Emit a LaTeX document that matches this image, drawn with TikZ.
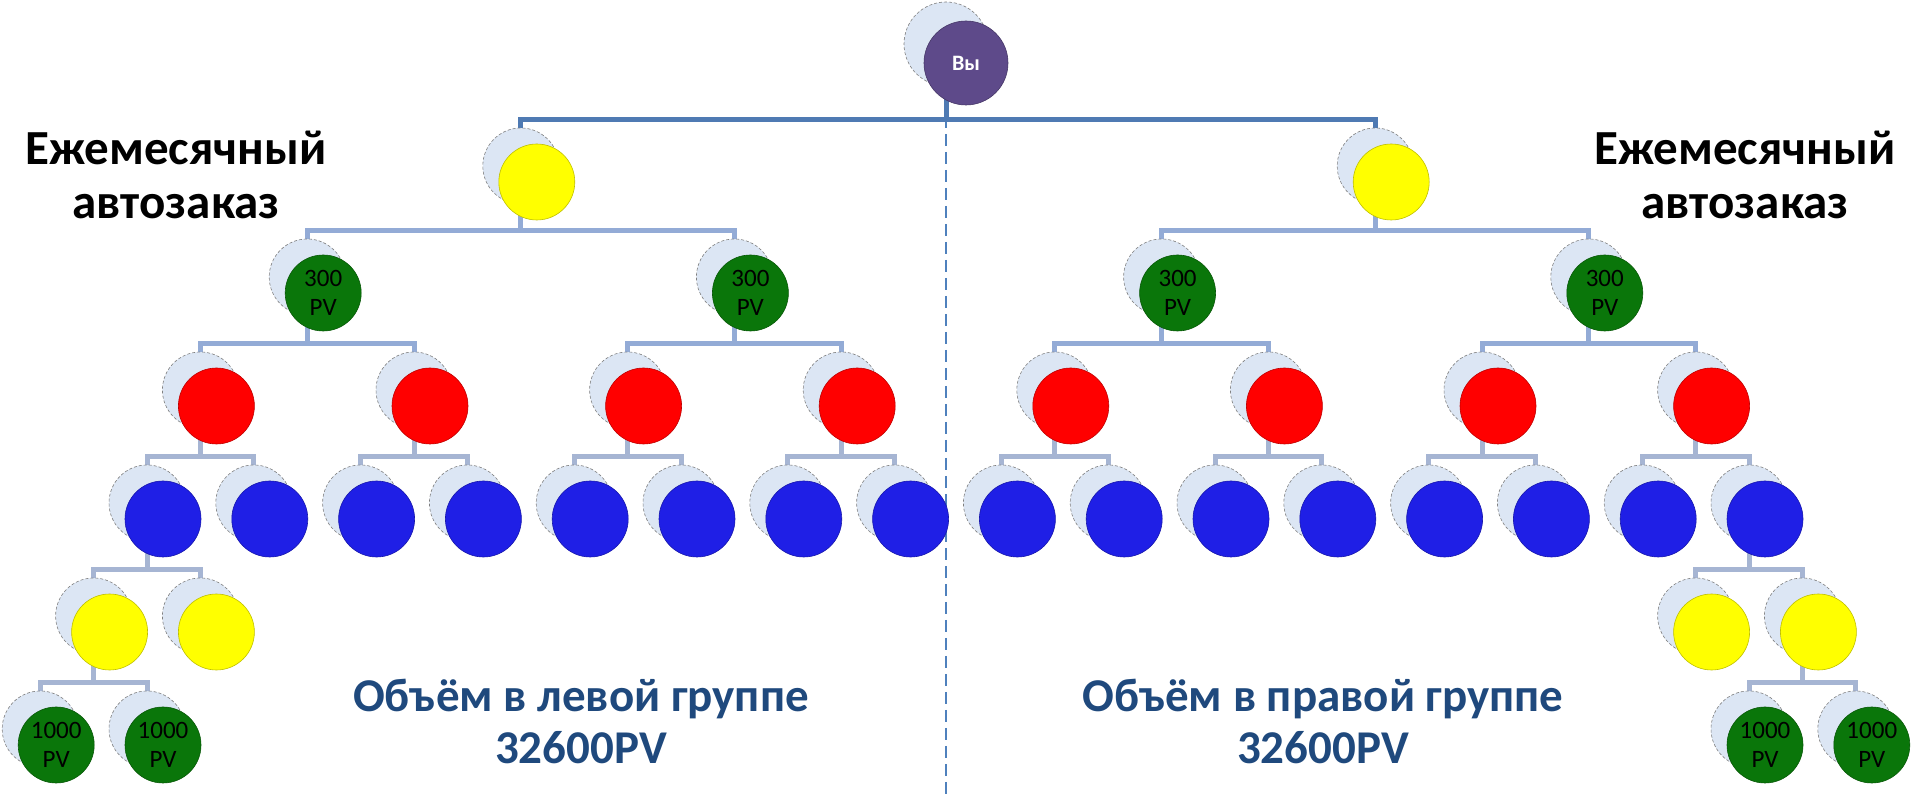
\documentclass[tikz,border=0pt]{standalone}
\usepackage{fontspec}
\setmainfont{Carlito}
\usetikzlibrary{backgrounds}

\definecolor{backfill}{HTML}{DCE6F4}
\definecolor{backline}{HTML}{7F7F7F}
\definecolor{youcol}{HTML}{5E4A8A}
\definecolor{sunny}{HTML}{FFFF00}
\definecolor{leafgreen}{HTML}{0A760A}
\definecolor{rosso}{HTML}{FF0000}
\definecolor{deepblue}{HTML}{1F1FE6}
\definecolor{topline}{HTML}{4F7AB3}
\definecolor{midline}{HTML}{93ABD6}
\definecolor{lowline}{HTML}{A6B5D3}
\definecolor{splitline}{HTML}{4F81BD}
\definecolor{sumcol}{HTML}{1F497D}

\tikzset{
  backdisc/.style={circle, minimum size=#1, inner sep=0pt, fill=backfill,
    draw=backline, densely dashed, line width=0.6pt},
  backdisc/.default=76pt,
  frontdisc/.style={circle, minimum size=76pt, inner sep=0pt, fill=#1,
    draw=#1!75!black, line width=0.6pt, align=center,
    font=\fontsize{25}{29}\selectfont},
  link/.style={draw=#1, line width=5pt},
  split/.style={draw=splitline, line width=2.5pt, dash pattern=on 12pt off 6pt},
  autotext/.style={align=center, font=\fontsize{49}{54}\selectfont\bfseries},
  sumtext/.style={align=center, text=sumcol, font=\fontsize{47}{52}\selectfont\bfseries},
}

% one member: back disc (name) and coloured disc (name f)
\newcommand{\member}[4]{%
  \node[backdisc] (#1) at (#2) {};
  \node[frontdisc=#3] (#1f) at ([shift={(16,-16)}]#1.center) {#4};}

\begin{document}
\begin{tikzpicture}[x=1pt, y=1pt]
  \useasboundingbox (0,0) rectangle (1915,795);
  \def\u{53.4}

  % top
  \node[backdisc=84pt] (you) at (946,751) {};
  \node[frontdisc=youcol, minimum size=84pt, text=white,
    font=\fontsize{22}{26}\selectfont\bfseries] (youf) at ([shift={(20,-19)}]you.center) {Вы};

  % first line
  \foreach \i in {1,2}
    \member{y\i}{{948+(16*\i-24)*\u},629}{sunny}{};
  \foreach \i in {1,...,4}
    \member{g\i}{{948+(8*\i-20)*\u},518}{leafgreen}{300\\PV};
  \foreach \i in {1,...,8}
    \member{r\i}{{948+(4*\i-18)*\u},405}{rosso}{};
  \foreach \i in {1,...,16}
    \member{b\i}{{948+(2*\i-17)*\u},292}{deepblue}{};

  % left and right deep legs
  \member{ly1}{{948-16*\u},179}{sunny}{};
  \member{ly2}{{948-14*\u},179}{sunny}{};
  \member{lg1}{{948-17*\u},66}{leafgreen}{1000\\PV};
  \member{lg2}{{948-15*\u},66}{leafgreen}{1000\\PV};
  \member{ry1}{{948+14*\u},179}{sunny}{};
  \member{ry2}{{948+16*\u},179}{sunny}{};
  \member{rg1}{{948+15*\u},66}{leafgreen}{1000\\PV};
  \member{rg2}{{948+17*\u},66}{leafgreen}{1000\\PV};

  % labels
  \node[autotext] (autoL) at (176,620) {Ежемесячный\\автозаказ};
  \node[autotext] (autoR) at (1745,620) {Ежемесячный\\автозаказ};
  \node[sumtext] (sumL) at (581,74) {Объём в левой группе\\32600PV};
  \node[sumtext] (sumR) at (1323,74) {Объём в правой группе\\32600PV};

  \begin{scope}[on background layer]
    \coordinate (floor) at (946,0);
    \draw[split] (you.center) -- (you.center |- floor);
    \foreach \c in {y1,y2}
      \draw[link=topline] (you.center) |- ([yshift=8pt]\c.north) -- (\c.center);
    \foreach \p/\c in {y1/g1, y1/g2, y2/g3, y2/g4}
      \draw[link=midline] (\p.center) |- ([yshift=8pt]\c.north) -- (\c.center);
    \foreach \i in {1,...,4} {
      \pgfmathtruncatemacro\ca{2*\i-1}
      \pgfmathtruncatemacro\cb{2*\i}
      \draw[link=midline] (g\i.center) |- ([yshift=8pt]r\ca.north) -- (r\ca.center);
      \draw[link=midline] (g\i.center) |- ([yshift=8pt]r\cb.north) -- (r\cb.center);
    }
    \foreach \i in {1,...,8} {
      \pgfmathtruncatemacro\ca{2*\i-1}
      \pgfmathtruncatemacro\cb{2*\i}
      \draw[link=lowline] (r\i.center) |- ([yshift=8pt]b\ca.north) -- (b\ca.center);
      \draw[link=lowline] (r\i.center) |- ([yshift=8pt]b\cb.north) -- (b\cb.center);
    }
    \foreach \p/\c in {b1/ly1, b1/ly2, ly1/lg1, ly1/lg2, b16/ry1, b16/ry2, ry2/rg1, ry2/rg2}
      \draw[link=lowline] (\p.center) |- ([yshift=8pt]\c.north) -- (\c.center);
  \end{scope}
\end{tikzpicture}
\end{document}
